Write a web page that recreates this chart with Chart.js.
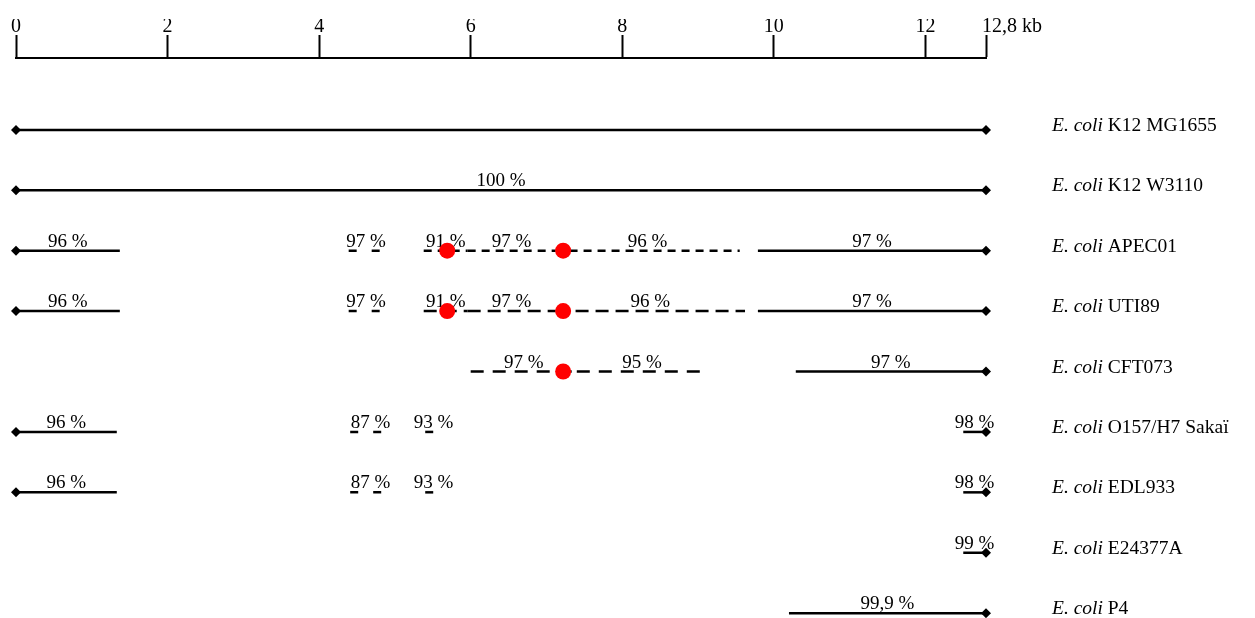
<!DOCTYPE html>
<html>
<head>
<meta charset="utf-8">
<script src="https://cdn.jsdelivr.net/npm/chart.js@4.4.1/dist/chart.umd.min.js"></script>
<style>
  html, body { margin: 0; padding: 0; background: #ffffff; }
  #wrap { width: 1255px; height: 618px; position: relative; }
</style>
</head>
<body>
<div id="wrap"><canvas id="c"></canvas></div>
<script>
// ---------------- DATA ----------------
const strainNames = ['K12 MG1655', 'K12 W3110', 'APEC01', 'UTI89', 'CFT073',
                     'O157/H7 Sakaï', 'EDL933', 'E24377A', 'P4'];
const speciesName = 'E. coli';
const axisTickValues = [0, 2, 4, 6, 8, 10, 12, 12.8];
const genomeLength = 12.8;   // kb
const axisUnit = 'kb';

// aligned segments (kb), one entry per segment
const segRow      = [0, 1,
                     2, 2, 2, 2, 2, 2,
                     3, 3, 3, 3, 3, 3,
                     4, 4, 4,
                     5, 5, 5, 5,
                     6, 6, 6, 6,
                     7,
                     8];
const segStart    = [0, 0,
                     0, 4.39, 5.38, 5.96, 7.12, 9.79,
                     0, 4.39, 5.38, 5.96, 7.12, 9.79,
                     6.0, 7.4, 10.29,
                     0, 4.41, 5.40, 12.5,
                     0, 4.41, 5.40, 12.5,
                     12.5,
                     10.2];
const segEnd      = [12.8, 12.8,
                     1.37, 4.85, 5.96, 7.12, 9.55, 12.8,
                     1.37, 4.85, 5.96, 7.12, 9.62, 12.8,
                     7.4, 9.12, 12.8,
                     1.33, 4.95, 5.62, 12.8,
                     1.33, 4.95, 5.62, 12.8,
                     12.8,
                     12.8];
const segIdentity = ['', '100 %',
                     '96 %', '97 %', '91 %', '97 %', '96 %', '97 %',
                     '96 %', '97 %', '91 %', '97 %', '96 %', '97 %',
                     '97 %', '95 %', '97 %',
                     '96 %', '87 %', '93 %', '98 %',
                     '96 %', '87 %', '93 %', '98 %',
                     '99 %',
                     '99,9 %'];
const segContinuous = [true, true,
                       true, false, false, false, false, true,
                       true, false, false, false, false, true,
                       false, false, true,
                       true, false, false, true,
                       true, false, false, true,
                       true,
                       true];

// insertion sites (red dots)
const insertRow = [2, 2, 3, 3, 4];
const insertPos = [5.69, 7.22, 5.69, 7.22, 7.22];

// ---------------- STYLE ----------------
const SERIF = '"Liberation Serif", "Times New Roman", serif';
const rowDash = {2: [8, 6], 3: [13, 7], 4: [13, 9]};
const isolatedDash = [8, 15];

function isIsolated(i) {
  for (let j = 0; j < segRow.length; j++) {
    if (j === i || segRow[j] !== segRow[i]) continue;
    if (Math.abs(segEnd[j] - segStart[i]) < 1e-9 || Math.abs(segStart[j] - segEnd[i]) < 1e-9) return false;
  }
  return true;
}

const datasets = [];
// insertion dots first -> drawn on top
datasets.push({
  label: 'insertions',
  data: insertRow.map((r, k) => ({x: insertPos[k], y: r})),
  backgroundColor: '#ff0000',
  borderWidth: 0,
  pointRadius: 8,
  showLine: false,
  clip: false
});
segRow.forEach((r, i) => {
  let dash = [];
  if (!segContinuous[i]) dash = isIsolated(i) ? isolatedDash : (rowDash[r] || [8, 6]);
  const pts = [{x: segStart[i], y: r}, {x: segEnd[i], y: r}];
  datasets.push({
    label: 'seg' + i,
    data: pts,
    showLine: true,
    borderColor: '#000000',
    borderWidth: 2.5,
    borderDash: dash,
    borderCapStyle: 'butt',
    pointStyle: 'rectRot',
    pointRadius: pts.map(p => (p.x === 0 || p.x === genomeLength) ? 5 : 0),
    pointBackgroundColor: '#000000',
    pointBorderWidth: 0,
    clip: false
  });
});

const textPlugin = {
  id: 'textPlugin',
  beforeDatasetDraw(chart, args) {
    if (args.index !== 0) return;
    const ctx = chart.ctx, xs = chart.scales.x, ys = chart.scales.y;
    ctx.save();
    ctx.fillStyle = '#000000';
    ctx.textAlign = 'center';
    ctx.textBaseline = 'alphabetic';
    ctx.font = '19px ' + SERIF;
    segRow.forEach((r, i) => {
      if (!segIdentity[i]) return;
      const x = xs.getPixelForValue((segStart[i] + segEnd[i]) / 2);
      const y = ys.getPixelForValue(r) - 4;
      ctx.fillText(segIdentity[i], x, y);
    });
    ctx.restore();
  },
  afterDraw(chart) {
    const ctx = chart.ctx, xs = chart.scales.x, ys = chart.scales.y;
    ctx.save();
    ctx.fillStyle = '#000000';
    ctx.textBaseline = 'middle';
    ctx.textAlign = 'left';
    const lx = 1052;
    strainNames.forEach((name, r) => {
      const y = ys.getPixelForValue(r) - 4;
      ctx.font = 'italic 19.5px ' + SERIF;
      ctx.fillText(speciesName, lx, y);
      const w = ctx.measureText(speciesName + ' ').width;
      ctx.font = '19.5px ' + SERIF;
      ctx.fillText(name, lx + w, y);
    });
    // end-of-axis label
    ctx.font = '20px ' + SERIF;
    ctx.textBaseline = 'alphabetic';
    const endX = xs.getPixelForValue(genomeLength);
    ctx.fillText(String(genomeLength).replace('.', ',') + ' ' + axisUnit, endX - 4, chart.chartArea.top - 26.5);
    ctx.restore();
  }
};

new Chart(document.getElementById('c'), {
  type: 'scatter',
  data: { datasets },
  options: {
    responsive: true,
    maintainAspectRatio: false,
    animation: false,
    devicePixelRatio: 1,
    layout: { autoPadding: false, padding: { left: 16, right: 269, top: 19, bottom: 0 } },
    plugins: { legend: { display: false }, tooltip: { enabled: false } },
    scales: {
      x: {
        type: 'linear',
        position: 'top',
        min: 0,
        max: genomeLength,
        afterBuildTicks: (scale) => { scale.ticks = axisTickValues.map(v => ({value: v})); },
        ticks: {
          autoSkip: false,
          maxRotation: 0,
          padding: -4,
          color: '#000000',
          font: { family: SERIF, size: 20 },
          callback: (v) => (v === genomeLength ? '' : String(v))
        },
        grid: {
          drawOnChartArea: false,
          drawTicks: true,
          tickLength: 23,
          tickWidth: 2,
          tickColor: '#000000'
        },
        border: { display: true, color: '#000000', width: 2 }
      },
      y: {
        type: 'linear',
        display: false,
        reverse: true,
        min: -1.19,
        max: 8.08
      }
    }
  },
  plugins: [textPlugin]
});
</script>
</body>
</html>
